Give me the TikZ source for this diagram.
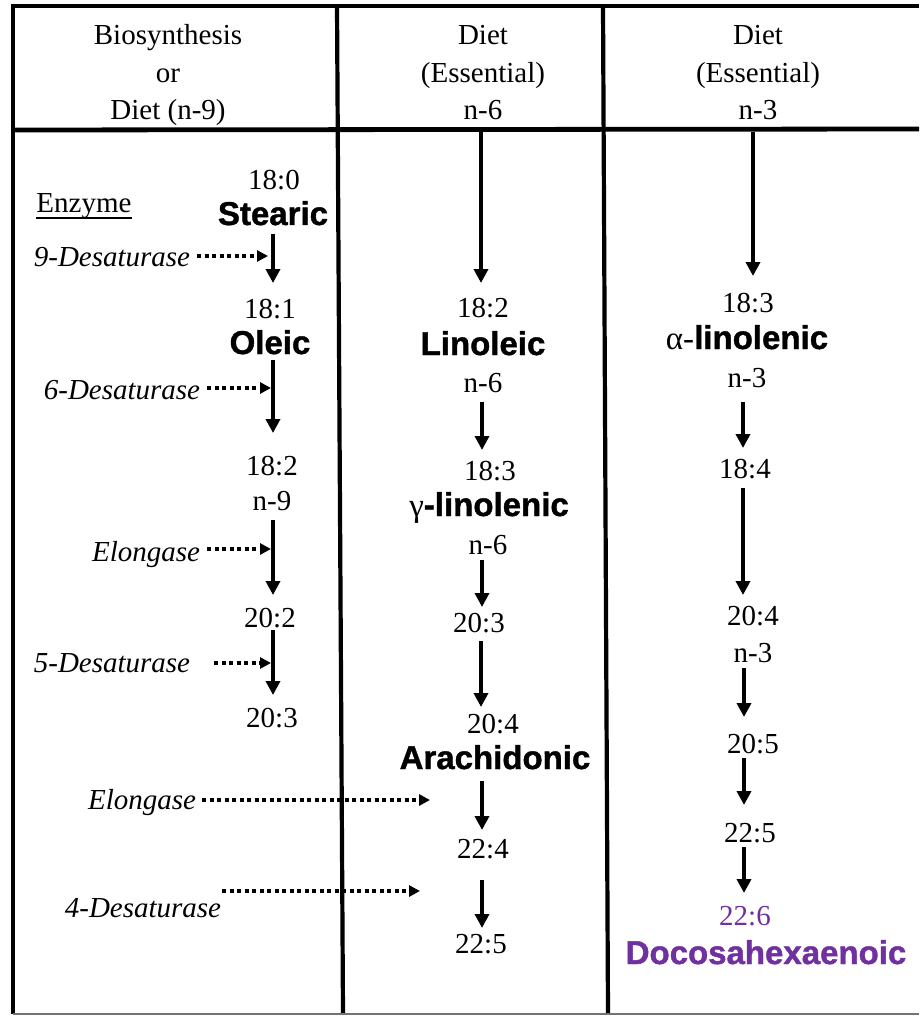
\documentclass[tikz,border=0pt]{standalone}
\usepackage{fontspec}
\setmainfont{Liberation Serif}
\newfontfamily\acidfont{Liberation Sans}[BoldFeatures={FakeBold=1.2}]
\usetikzlibrary{arrows.meta}
\definecolor{dhapurple}{HTML}{7030A0}
\definecolor{bordergray}{gray}{0.45}
\begin{document}
\begin{tikzpicture}[x=1pt,y=-1pt,
  txt/.style={font=\fontsize{29}{30}\selectfont, inner sep=0pt, anchor=base},
  acid/.style={font=\fontsize{33}{34}\selectfont\acidfont\bfseries, inner sep=0pt, anchor=base},
  enz/.style={font=\fontsize{29}{30}\selectfont\itshape, inner sep=0pt, anchor=base},
  arr/.style={line width=3.8pt, -{Triangle[length=14pt,width=14pt]}},
  dotarr/.style={line width=4pt, dash pattern=on 4pt off 3.5pt, -{Triangle[length=11pt,width=11pt]}},
  frameline/.style={line width=4.8pt, black},
  colline/.style={line width=4.2pt, black},
  bottomline/.style={line width=1.6pt, bordergray}]
\useasboundingbox (0,0) rectangle (919,1016);
% frame
\draw[frameline] (13,3.6) -- (13,1014);
\draw[frameline] (10.6,6) -- (919,6);
\draw[frameline] (13,130) -- (919,129);
\draw[colline] (337,6) -- (343,1014);
\draw[colline] (603,6) -- (608,1014);
\draw[bottomline] (13,1014) -- (919,1014);
% header
\node[txt] (h1a) at (168,45) {Biosynthesis};
\node[txt] (h1b) at (168,83) {or};
\node[txt] (h1c) at (168,120) {Diet (n-9)};
\node[txt] (h2a) at (483,45) {Diet};
\node[txt] (h2b) at (483,83) {(Essential)};
\node[txt] (h2c) at (483,120) {n-6};
\node[txt] (h3a) at (758,45) {Diet};
\node[txt] (h3b) at (758,83) {(Essential)};
\node[txt] (h3c) at (758,120) {n-3};
% column 1
\node[txt] (enzyme) at (84,213) {Enzyme};
\draw[line width=1.3pt] ([yshift=-5pt]enzyme.base west) -- ([yshift=-5pt]enzyme.base east);
\node[txt] (c180) at (274,190) {18:0};
\node[acid] (stearic) at (273,225) {Stearic};
\node[txt] (c181) at (270,318) {18:1};
\node[acid] (oleic) at (270,354) {Oleic};
\node[txt] (c182a) at (272,475) {18:2};
\node[txt] (n9) at (272,510) {n-9};
\node[txt] (c202) at (270,627) {20:2};
\node[txt] (c203a) at (272,727) {20:3};
\coordinate (a1s) at (273,234); \coordinate (a1e) at (273,283);
\coordinate (a2s) at (273,360); \coordinate (a2e) at (273,433);
\coordinate (a3s) at (273,520); \coordinate (a3e) at (273,595);
\coordinate (a4s) at (273,630); \coordinate (a4e) at (273,695);
\draw[arr] (a1s) -- (a1e);
\draw[arr] (a2s) -- (a2e);
\draw[arr] (a3s) -- (a3e);
\draw[arr] (a4s) -- (a4e);
% enzymes
\node[enz] (des9) at (112,266) {9-Desaturase};
\node[enz] (des6) at (122,399) {6-Desaturase};
\node[enz] (elo1) at (146,561) {Elongase};
\node[enz] (des5) at (112,672) {5-Desaturase};
\node[enz] (elo2) at (142,809) {Elongase};
\node[enz] (des4) at (143,917) {4-Desaturase};
\coordinate (d9s) at (197,256); \coordinate (d9e) at (268,256);
\coordinate (d6s) at (207,388); \coordinate (d6e) at (271,388);
\coordinate (e1s) at (207,549); \coordinate (e1e) at (271,549);
\coordinate (d5s) at (214,663); \coordinate (d5e) at (271,663);
\coordinate (e2s) at (202,800); \coordinate (e2e) at (430,800);
\coordinate (d4s) at (222,891); \coordinate (d4e) at (420,891);
\draw[dotarr] (d9s) -- (d9e);
\draw[dotarr] (d6s) -- (d6e);
\draw[dotarr] (e1s) -- (e1e);
\draw[dotarr] (d5s) -- (d5e);
\draw[dotarr] (e2s) -- (e2e);
\draw[dotarr] (d4s) -- (d4e);
% column 2
\node[txt] (c182b) at (483,317) {18:2};
\node[acid] (linoleic) at (483,355) {Linoleic};
\node[txt] (n6a) at (483,392) {n-6};
\node[txt] (c183b) at (490,480) {18:3};
\node[acid] (gla) at (489,516) {{\rmfamily\mdseries γ}-linolenic};
\node[txt] (n6b) at (488,554) {n-6};
\node[txt] (c203b) at (479,632) {20:3};
\node[txt] (c204b) at (493,733) {20:4};
\node[acid] (arach) at (495,769) {Arachidonic};
\node[txt] (c224) at (483,858) {22:4};
\node[txt] (c225b) at (481,953) {22:5};
\coordinate (b0s) at (481,132); \coordinate (b0e) at (481,283);
\coordinate (b1s) at (482,402); \coordinate (b1e) at (482,450);
\coordinate (b2s) at (482,560); \coordinate (b2e) at (482,607);
\coordinate (b3s) at (481,641); \coordinate (b3e) at (481,707);
\coordinate (b4s) at (482,781); \coordinate (b4e) at (482,830);
\coordinate (b5s) at (482,880); \coordinate (b5e) at (482,928);
\draw[arr] (b0s) -- (b0e);
\draw[arr] (b1s) -- (b1e);
\draw[arr] (b2s) -- (b2e);
\draw[arr] (b3s) -- (b3e);
\draw[arr] (b4s) -- (b4e);
\draw[arr] (b5s) -- (b5e);
% column 3
\node[txt] (c183c) at (748,312) {18:3};
\node[acid] (ala) at (747,349) {{\rmfamily\mdseries α-}linolenic};
\node[txt] (n3a) at (747,387) {n-3};
\node[txt] (c184) at (745,478) {18:4};
\node[txt] (c204c) at (753,625) {20:4};
\node[txt] (n3b) at (753,662) {n-3};
\node[txt] (c205) at (753,753) {20:5};
\node[txt] (c225c) at (750,842) {22:5};
\node[txt, text=dhapurple] (c226) at (745,925) {22:6};
\node[acid, text=dhapurple] (dha) at (766,964) {Docosahexaenoic};
\coordinate (g0s) at (753,132); \coordinate (g0e) at (753,276);
\coordinate (g1s) at (743,402); \coordinate (g1e) at (743,448);
\coordinate (g2s) at (743,488); \coordinate (g2e) at (743,595);
\coordinate (g3s) at (744,668); \coordinate (g3e) at (744,717);
\coordinate (g4s) at (744,758); \coordinate (g4e) at (744,805);
\coordinate (g5s) at (744,847); \coordinate (g5e) at (744,893);
\draw[arr] (g0s) -- (g0e);
\draw[arr] (g1s) -- (g1e);
\draw[arr] (g2s) -- (g2e);
\draw[arr] (g3s) -- (g3e);
\draw[arr] (g4s) -- (g4e);
\draw[arr] (g5s) -- (g5e);
\end{tikzpicture}
\end{document}
